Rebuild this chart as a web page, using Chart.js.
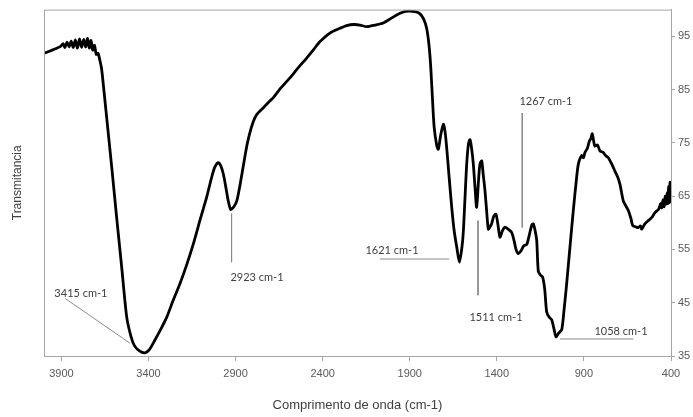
<!DOCTYPE html>
<html>
<head>
<meta charset="utf-8">
<script src="https://cdn.jsdelivr.net/npm/chart.js@4.4.1/dist/chart.umd.min.js"></script>
<style>
  body { margin: 0; background: #fff; }
  #wrap { width: 693px; height: 417px; }
</style>
</head>
<body>
<div id="wrap"><canvas id="irChart" width="693" height="417"></canvas></div>
<script>
// IR spectrum (wavenumber cm-1, transmittance %)
const waveNumbers = [
  4000, 3960, 3930, 3905, 3890, 3880, 3868, 3856, 3844, 3832, 3820, 3808, 3796, 3784, 3772, 3760,
  3750, 3740, 3730, 3720, 3710, 3700, 3690, 3678, 3669,
  3655, 3640, 3611, 3583, 3554, 3525, 3500, 3480, 3450, 3420, 3395, 3363, 3330, 3295, 3260, 3219,
  3180, 3143, 3100, 3066, 3040, 3020, 2999, 2985, 2970, 2955, 2942, 2928, 2910, 2893, 2875, 2856,
  2835, 2817, 2798, 2779, 2741, 2702, 2683, 2640, 2588, 2540, 2492, 2450, 2415, 2358, 2300, 2262,
  2220, 2186, 2147, 2100, 2052, 2010, 1975, 1940, 1908, 1870, 1841, 1820, 1803, 1790, 1780, 1770,
  1760, 1745, 1736, 1722, 1707, 1697, 1688, 1675, 1659, 1645, 1630, 1615, 1600, 1592, 1583, 1573,
  1563, 1554, 1545, 1535, 1525, 1516, 1505, 1497, 1487, 1478, 1468, 1458, 1449, 1440, 1430, 1418,
  1405, 1393, 1382, 1368, 1353, 1335, 1315, 1300, 1290, 1277, 1260, 1245, 1229, 1215, 1200, 1191,
  1180, 1171, 1162, 1150, 1137, 1125, 1114, 1100, 1085, 1070, 1060, 1045, 1027, 1013, 999, 980,
  961, 945, 932, 913, 903, 894, 880, 869, 860, 852, 845, 837, 822, 808, 790, 775,
  760, 740, 722, 705, 693, 674, 660, 645, 630, 620, 600, 588, 575, 568, 550, 530,
  510, 492, 470, 460, 453, 446, 440, 433, 428, 422, 418, 414, 410, 406, 403, 400
];
const transmittance = [
  91.8, 92.3, 92.7, 93.1, 93.6, 92.9, 93.9, 93.0, 94.1, 92.9, 94.3, 92.8, 94.5, 92.9, 94.4, 93.0,
  94.6, 92.8, 94.2, 92.4, 93.3, 91.6, 91.8, 90.3, 88.8,
  84.5, 79.7, 70.4, 61.0, 51.7, 42.3, 38.6, 36.9, 35.9, 35.6, 36.2, 38.0, 40.0, 42.3, 45.3, 48.6,
  52.2, 56.0, 61.0, 64.8, 68.2, 70.4, 71.3, 70.7, 69.1, 66.5, 64.1, 62.5, 63.0, 64.1, 67.0, 70.6,
  74.5, 77.0, 79.0, 80.3, 81.6, 82.9, 83.5, 85.3, 87.2, 89.1, 90.9, 92.6, 94.0, 95.6, 96.5, 97.0,
  97.2, 97.1, 96.8, 97.1, 97.5, 98.3, 99.0, 99.5, 99.7, 99.6, 99.2, 98.2, 96.5, 93.5, 89.5, 83.5,
  78.0, 74.5, 73.8, 76.5, 78.5, 77.0, 74.1, 69.0, 62.9, 58.5, 55.4, 52.6, 55.5, 58.5, 64.5, 71.0,
  74.8, 75.6, 74.0, 71.0, 66.5, 62.9, 68.0, 71.0, 71.6, 69.0, 66.0, 62.0, 58.8, 59.2, 59.8, 61.2,
  61.6, 59.5, 57.3, 58.5, 59.2, 58.8, 58.2, 56.5, 55.0, 54.2, 54.8, 55.7, 55.9, 57.5, 59.5, 59.8,
  58.5, 56.7, 50.9, 50.2, 49.8, 47.5, 43.3, 42.3, 41.8, 39.8, 38.6, 39.3, 40.0, 44.0, 48.6, 55.5,
  62.3, 67.5, 71.0, 72.6, 72.2, 73.2, 74.0, 75.3, 75.8, 76.7, 75.5, 74.4, 74.6, 73.5, 73.2, 72.6,
  72.2, 71.0, 69.7, 68.5, 67.2, 64.1, 63.2, 62.3, 60.8, 59.5, 59.2, 59.1, 59.4, 58.8, 59.8, 60.4,
  61.0, 61.9, 62.6, 63.6, 62.8, 64.3, 63.0, 65.0, 63.5, 65.6, 63.6, 66.8, 63.8, 67.6, 64.0, 66.0
];

const xTicks = [3900, 3400, 2900, 2400, 1900, 1400, 900, 400];
const yTicks = [35, 45, 55, 65, 75, 85, 95];

// peak annotations: label text, label anchor, leader line ends (data units)
const peakLabels = ["3415 cm-1", "2923 cm-1", "1621 cm-1", "1511 cm-1", "1267 cm-1", "1058 cm-1"];
const labelX = [3788, 2777, 2002, 1405, 1118, 687];
const labelY = [46.8, 49.8, 54.8, 42.3, 82.7, 39.6];
const leaderX1 = [3879, 2923, 2071, 1508, 1254, 1037];
const leaderY1 = [45.8, 61.7, 53.2, 60.4, 80.6, 38.2];
const leaderX2 = [3506, 2923, 1673, 1508, 1254, 616];
const leaderY2 = [37.4, 52.6, 53.2, 46.4, 59.1, 38.2];

const spectrum = waveNumbers.map((w, i) => ({ x: w, y: transmittance[i] }));

const leaderSets = peakLabels.map((name, i) => ({
    label: name,
    data: [{ x: leaderX1[i], y: leaderY1[i] }, { x: leaderX2[i], y: leaderY2[i] }],
    borderColor: "#8a8a8a",
    borderWidth: 1,
    pointRadius: 0,
    tension: 0,
    yAxisID: "y"
}));

const boxAndLabels = {
    id: "boxAndLabels",
    afterDatasetsDraw(chart) {
        const { ctx, chartArea, scales } = chart;
        ctx.save();
        ctx.strokeStyle = "#a6a6a6";
        ctx.lineWidth = 1;
        ctx.strokeRect(chartArea.left + 0.5, chartArea.top + 0.5,
            chartArea.right - chartArea.left, chartArea.bottom - chartArea.top);
        ctx.fillStyle = "#404040";
        ctx.font = "11px Lato, 'Open Sans', sans-serif";
        ctx.textAlign = "center";
        ctx.textBaseline = "middle";
        peakLabels.forEach((txt, i) => {
            ctx.fillText(txt, scales.x.getPixelForValue(labelX[i]), scales.y.getPixelForValue(labelY[i]));
        });
        ctx.restore();
    }
};

new Chart(document.getElementById("irChart").getContext("2d"), {
    type: "line",
    data: {
        datasets: [
            ...leaderSets,
            {
                label: "Espectro",
                data: spectrum,
                borderColor: "#000000",
                borderWidth: 2.8,
                pointRadius: 0,
                tension: 0.25,
                yAxisID: "y"
            }
        ]
    },
    options: {
        responsive: false,
        animation: false,
        layout: { padding: { top: 8, left: 0, right: 0, bottom: 0 } },
        plugins: { legend: { display: false }, tooltip: { enabled: false } },
        scales: {
            x: {
                type: "linear",
                min: 400,
                max: 4000,
                reverse: true,
                afterBuildTicks: s => { s.ticks = xTicks.map(v => ({ value: v })); },
                afterFit: s => { s.height = 61; },
                ticks: {
                    color: "#595959",
                    font: { family: "'Liberation Sans', Arial", size: 11 },
                    padding: 6,
                    maxRotation: 0,
                    callback: v => String(v)
                },
                grid: { drawOnChartArea: false, drawTicks: true, tickLength: 5, color: "#a6a6a6" },
                border: { display: true, color: "#a6a6a6" },
                title: {
                    display: true,
                    text: "Comprimento de onda (cm-1)",
                    color: "#404040",
                    font: { family: "'Liberation Sans', Arial", size: 13 },
                    padding: { top: 0, bottom: 4 }
                }
            },
            y: {
                type: "linear",
                position: "right",
                min: 35,
                max: 100,
                afterBuildTicks: s => { s.ticks = yTicks.map(v => ({ value: v })); },
                afterFit: s => { s.width = 22; },
                ticks: {
                    color: "#595959",
                    font: { family: "'Liberation Sans', Arial", size: 11 },
                    padding: 3
                },
                grid: { drawOnChartArea: false, drawTicks: true, tickLength: 4, color: "#a6a6a6" },
                border: { display: true, color: "#a6a6a6" }
            },
            yLeft: {
                type: "linear",
                position: "left",
                afterFit: s => { s.width = 44; },
                ticks: { display: false },
                grid: { display: false },
                border: { display: false },
                title: {
                    display: true,
                    text: "Transmitancia",
                    color: "#404040",
                    font: { family: "'Liberation Sans', Arial", size: 12 },
                    padding: { top: 10, bottom: 0 }
                }
            }
        }
    },
    plugins: [boxAndLabels]
});
</script>
</body>
</html>
